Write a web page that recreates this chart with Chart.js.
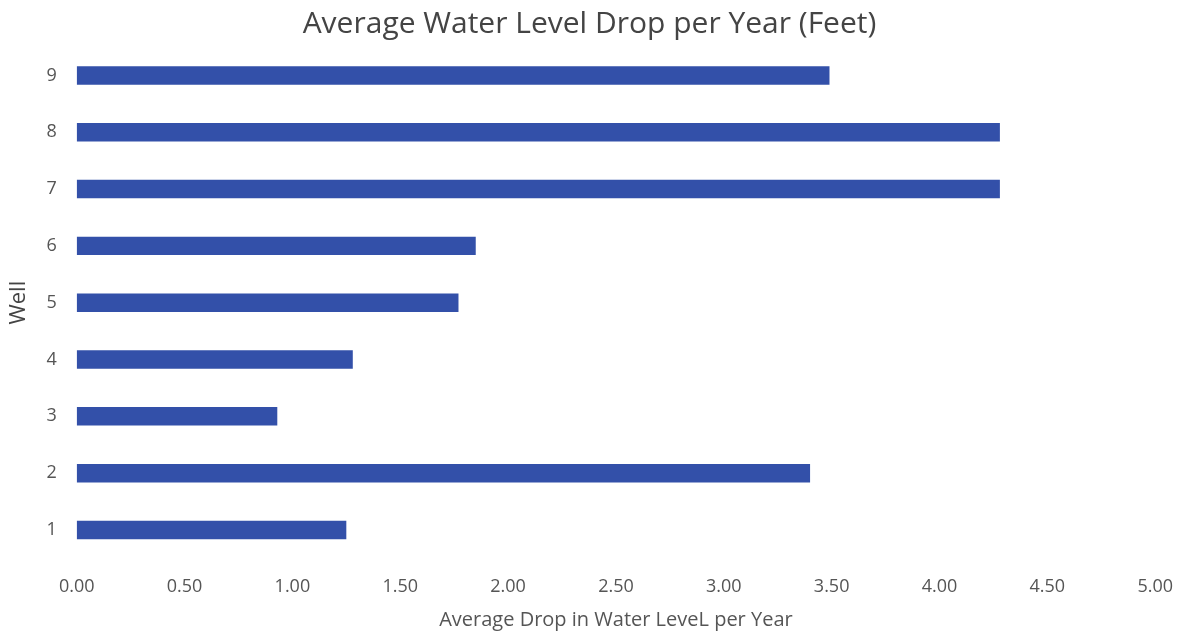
<!DOCTYPE html>
<html>
<head>
<meta charset="utf-8">
<script src="https://cdn.jsdelivr.net/npm/chart.js@4"></script>
<style>
  html, body { margin: 0; padding: 0; background: #fff; }
  #wrap { width: 1183px; height: 634px; }
</style>
</head>
<body>
<div id="wrap"><canvas id="myChart" width="1183" height="634"></canvas></div>
<script>
var wells = ["1", "2", "3", "4", "5", "6", "7", "8", "9"];
var drops = [1.25, 3.40, 0.93, 1.28, 1.77, 1.85, 4.28, 4.28, 3.49];
var xTicks = [0, 0.5, 1, 1.5, 2, 2.5, 3, 3.5, 4, 4.5, 5];

var font = "'Open Sans', sans-serif";
var grey = "#555555";

new Chart("myChart", {
  type: "bar",
  data: {
    labels: wells,
    datasets: [{
      data: drops,
      backgroundColor: "#3350a9",
      barPercentage: 0.65,
      categoryPercentage: 0.5
    }]
  },
  options: {
    indexAxis: "y",
    responsive: false,
    animation: false,
    layout: { padding: { left: 6, right: 10, top: 4, bottom: 2 } },
    plugins: {
      legend: { display: false },
      tooltip: { enabled: false },
      title: {
        display: true,
        text: "Average Water Level Drop per Year (Feet)",
        color: "#444",
        font: { family: font, size: 30, weight: "normal" },
        padding: { top: 2, bottom: 5 }
      }
    },
    scales: {
      x: {
        min: 0,
        max: 5,
        afterBuildTicks: function (axis) {
          axis.ticks = xTicks.map(function (v) { return { value: v }; });
        },
        grid: { display: false },
        border: { display: false },
        ticks: {
          color: grey,
          font: { family: font, size: 18 },
          padding: 10,
          maxRotation: 0,
          callback: function (v) { return Number(v).toFixed(2); }
        },
        title: {
          display: true,
          text: "Average Drop in Water LeveL per Year",
          color: grey,
          font: { family: font, size: 20 },
          padding: { top: 0, bottom: 0 }
        }
      },
      y: {
        reverse: true,
        grid: { display: false },
        border: { display: false },
        ticks: {
          color: grey,
          font: { family: font, size: 18 },
          padding: 12
        },
        title: {
          display: true,
          text: "Well",
          color: "#444",
          font: { family: font, size: 22 },
          padding: { top: 0, bottom: 2 }
        }
      }
    }
  }
});
</script>
</body>
</html>
